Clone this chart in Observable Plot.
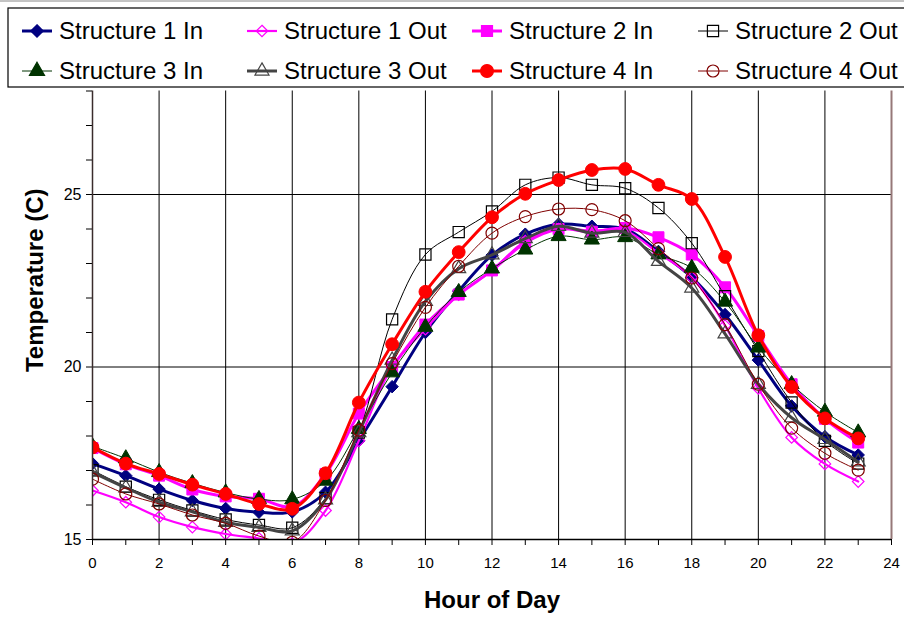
<!DOCTYPE html>
<html><head><meta charset="utf-8">
<script src="https://cdn.jsdelivr.net/npm/d3@7"></script>
<script src="https://cdn.jsdelivr.net/npm/@observablehq/plot@0.6"></script>
<style>
body{margin:0;background:#fff;font-family:"Liberation Sans",Arial,sans-serif;}
#wrap{position:relative;width:904px;height:617px;overflow:hidden;background:#fff}
#legend{height:88px}
#chart svg{display:block}
</style></head><body><div id="wrap"><div id="legend"></div><div id="chart"></div></div>
<script>
const hours = [0,1,2,3,4,5,6,7,8,9,10,11,12,13,14,15,16,17,18,19,20,21,22,23];
const s1In  = [17.2,16.85,16.46,16.13,15.9,15.79,15.8,16.37,17.86,19.43,21.0,22.2,23.24,23.85,24.14,24.08,24.0,23.35,22.6,21.52,20.2,18.87,17.98,17.45];
const s1Out = [16.42,16.08,15.65,15.36,15.16,15.03,14.88,15.84,17.86,20.0,21.1,22.1,22.8,23.65,24.0,23.95,23.95,23.3,22.6,21.2,19.38,17.96,17.19,16.68];
const s2In  = [17.65,17.18,16.85,16.45,16.25,16.18,15.95,16.9,18.65,20.0,21.23,22.1,22.8,23.6,24.0,23.92,24.03,23.76,23.26,22.31,20.9,19.5,18.5,17.81];
const s2Out = [17.01,16.53,16.15,15.84,15.58,15.42,15.34,16.2,18.1,21.38,23.26,23.91,24.51,25.28,25.49,25.28,25.18,24.61,23.59,22.05,20.46,18.97,17.86,17.2];
const s3In  = [17.7,17.35,16.95,16.63,16.36,16.17,16.16,16.7,18.2,19.84,21.16,22.17,22.85,23.4,23.79,23.69,23.76,23.26,22.87,21.89,20.56,19.5,18.7,18.1];
const s3Out = [16.95,16.5,16.08,15.8,15.5,15.35,15.25,16.15,18.1,20.2,21.9,22.85,23.25,23.72,24.08,23.88,23.9,23.06,22.29,20.96,19.5,18.53,17.9,17.25];
const s4In  = [17.67,17.2,16.9,16.59,16.32,16.03,15.89,16.92,18.97,20.66,22.18,23.33,24.34,25.02,25.42,25.71,25.74,25.28,24.87,23.19,20.92,19.42,18.51,17.93];
const s4Out = [16.75,16.32,16.03,15.71,15.47,15.1,14.92,16.13,18.17,20.1,21.73,22.92,23.88,24.36,24.58,24.56,24.24,23.43,22.58,21.23,19.5,18.23,17.5,17.01];
const seriesNames = ["Structure 1 In","Structure 1 Out","Structure 2 In","Structure 2 Out","Structure 3 In","Structure 3 Out","Structure 4 In","Structure 4 Out"];
const seriesValues = [s1In,s1Out,s2In,s2Out,s3In,s3Out,s4In,s4Out];
const xTicks = [0,1,2,3,4,5,6,7,8,9,10,11,12,13,14,15,16,17,18,19,20,21,22,23,24];
const yTicks = [15,16,17,18,19,20,21,22,23,24,25,26,27,28];
const xGrid = [2,4,6,8,10,12,14,16,18,20,22];
const yGrid = [20,25];

// styles
const styles = [
  {color:"#000080", symbol:"diamond2", filled:true,  width:3,   r:5.6},
  {color:"#ff00ff", symbol:"diamond2", filled:false, width:2.2, r:5.2},
  {color:"#ff00ff", symbol:"square",   filled:true,  width:3,   r:6.2},
  {color:"#000000", symbol:"square",   filled:false, width:1,   r:6.3},
  {color:"#003300", symbol:"triangle", filled:true,  width:1,   r:5.6},
  {color:"#444444", symbol:"triangle", filled:false, width:3,   r:5.2},
  {color:"#ff0000", symbol:"circle",   filled:true,  width:3,   r:6.4},
  {color:"#800000", symbol:"circle",   filled:false, width:1,   r:6}
];

const rows = [];
seriesNames.forEach((name,i)=>hours.forEach((h,j)=>rows.push({series:name, idx:i, hour:h, temp:seriesValues[i][j]})));

const marks = [
  Plot.ruleX(xGrid, {stroke:"#000", strokeWidth:1}),
  Plot.ruleY(yGrid, {stroke:"#000", strokeWidth:1}),
  Plot.ruleX([24], {stroke:"#967878", strokeWidth:2}),
  Plot.axisX({ticks:xTicks, tickSize:6, tickPadding:12, tickFormat:d=>d%2===0?String(d):"", fontSize:15, label:null}),
  Plot.axisY({ticks:yTicks, tickSize:6, tickPadding:5, tickFormat:d=>d%5===0?String(d):"", fontSize:16, label:null}),
];
styles.forEach((s,i)=>{
  const data = rows.filter(d=>d.idx===i);
  marks.push(Plot.line(data, {x:"hour", y:"temp", stroke:s.color, strokeWidth:s.width, curve:"catmull-rom", clip:true}));
  marks.push(Plot.dot(data, {x:"hour", y:"temp", symbol:()=>s.symbol, r:s.r,
    fill: s.filled ? s.color : "none", stroke:s.color, strokeWidth: s.filled?1:1.2, clip:true}));
});
marks.push(Plot.ruleX([0], {stroke:"#3a2c2c", strokeWidth:1.5}));
marks.push(Plot.ruleY([15], {stroke:"#000", strokeWidth:1.5}));
marks.push(Plot.text(["Hour of Day"], {frameAnchor:"bottom", dy:68, fontSize:24, fontWeight:"bold", fill:"#000", textAnchor:"middle"}));
marks.push(Plot.text(["Temperature (C)"], {frameAnchor:"left", dx:-57, dy:-35, rotate:-90, fontSize:24, fontWeight:"bold", fill:"#000", textAnchor:"middle", lineAnchor:"middle"}));

const chart = Plot.plot({
  width:904, height:529,
  marginLeft:92, marginRight:13, marginTop:2.5, marginBottom:78,
  x:{domain:[0,24]},
  y:{domain:[15,28]},
  symbol:{type:"identity"},
  style:{fontFamily:"'Liberation Sans', Arial, sans-serif", fontSize:"15px", color:"#000", background:"#fff", overflow:"visible"},
  marks
});
document.getElementById("chart").appendChild(chart);

// legend
const symMap = {diamond2:d3.symbolDiamond2, square:d3.symbolSquare, triangle:d3.symbolTriangle, circle:d3.symbolCircle};
const lg = d3.select("#legend").append("svg").attr("width",904).attr("height",88).style("display","block");
lg.append("rect").attr("x",8).attr("y",8).attr("width",910).attr("height",79).attr("fill","#fff").attr("stroke","#000").attr("stroke-width",1.2);
lg.append("line").attr("x1",0).attr("x2",904).attr("y1",1).attr("y2",1).attr("stroke","#888").attr("stroke-width",1);
const colX = [22,247,472,698];
const rowY = [31,71];
seriesNames.forEach((name,i)=>{
  const s = styles[i];
  const x0 = colX[i%4], y0 = rowY[Math.floor(i/4)];
  const g = lg.append("g");
  g.append("line").attr("x1",x0).attr("x2",x0+30).attr("y1",y0).attr("y2",y0).attr("stroke",s.color).attr("stroke-width",s.width);
  g.append("path").attr("d",d3.symbol(symMap[s.symbol], Math.PI*s.r*s.r)()).attr("transform",`translate(${x0+15},${y0})`)
    .attr("fill", s.filled?s.color:"none").attr("stroke",s.color).attr("stroke-width",1.2);
  g.append("text").attr("x",x0+37).attr("y",y0).attr("dy","0.35em").attr("font-size",24)
    .attr("font-family","'Liberation Sans', Arial, sans-serif").attr("fill","#000").text(name);
});
</script></body></html>
